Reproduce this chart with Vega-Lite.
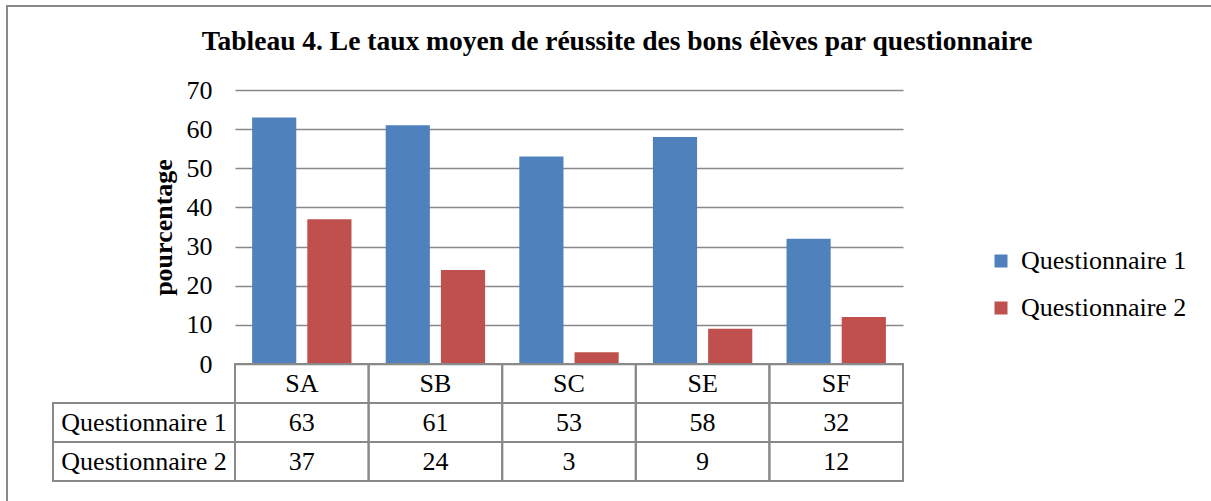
{
  "$schema": "https://vega.github.io/schema/vega-lite/v6.json",
  "width": 668,
  "height": 274,
  "autosize": {"type": "none"},
  "padding": {"left": 235, "top": 90, "right": 308, "bottom": 137},
  "background": "white",
  "config": {"view": {"stroke": null}, "font": "Liberation Serif"},
  "title": {
    "text": "Tableau 4. Le taux moyen de réussite des bons élèves  par questionnaire",
    "font": "Liberation Serif",
    "fontSize": 27.5,
    "fontWeight": "bold",
    "color": "black",
    "anchor": "middle",
    "baseline": "alphabetic",
    "dx": 48,
    "offset": -72
  },
  "data": {
    "values": [
      {"categorie": "SA", "questionnaire": "Questionnaire 1", "valeur": 63},
      {"categorie": "SA", "questionnaire": "Questionnaire 2", "valeur": 37},
      {"categorie": "SB", "questionnaire": "Questionnaire 1", "valeur": 61},
      {"categorie": "SB", "questionnaire": "Questionnaire 2", "valeur": 24},
      {"categorie": "SC", "questionnaire": "Questionnaire 1", "valeur": 53},
      {"categorie": "SC", "questionnaire": "Questionnaire 2", "valeur": 3},
      {"categorie": "SE", "questionnaire": "Questionnaire 1", "valeur": 58},
      {"categorie": "SE", "questionnaire": "Questionnaire 2", "valeur": 9},
      {"categorie": "SF", "questionnaire": "Questionnaire 1", "valeur": 32},
      {"categorie": "SF", "questionnaire": "Questionnaire 2", "valeur": 12}
    ]
  },
  "resolve": {"scale": {"x": "independent", "y": "independent"}},
  "layer": [
    {
      "transform": [{"aggregate": [{"op": "count", "as": "n"}]}],
      "mark": {"type": "rect", "filled": false, "stroke": "#898989", "strokeWidth": 2},
      "encoding": {
        "x": {"datum": 0, "type": "quantitative", "scale": {"domain": [0, 1], "range": [-228, 1000]}, "axis": null},
        "x2": {"datum": 1},
        "y": {"datum": 0, "type": "quantitative", "scale": {"domain": [0, 1], "range": [-84, 460]}, "axis": null},
        "y2": {"datum": 1}
      }
    },
    {
      "mark": {"type": "bar"},
      "encoding": {
        "x": {"field": "categorie", "type": "nominal", "scale": {"paddingInner": 0, "paddingOuter": 0}, "axis": null},
        "xOffset": {"field": "questionnaire", "type": "nominal", "scale": {"paddingInner": 0.2, "paddingOuter": 0.31}},
        "y": {
          "field": "valeur",
          "type": "quantitative",
          "scale": {"domain": [0, 70]},
          "axis": {
            "values": [0, 10, 20, 30, 40, 50, 60, 70],
            "title": "pourcentage",
            "titleFont": "Liberation Serif",
            "titleFontSize": 26,
            "titleFontWeight": "bold",
            "titleColor": "black",
            "titlePadding": 10,
            "labelFont": "Liberation Serif",
            "labelFontSize": 26,
            "labelColor": "black",
            "labelPadding": 23,
            "domain": false,
            "ticks": false,
            "grid": true,
            "gridColor": "#898989",
            "gridWidth": 1.5
          }
        },
        "color": {
          "field": "questionnaire",
          "type": "nominal",
          "scale": {"range": ["#4F81BD", "#C0504D"]},
          "legend": {
            "orient": "none",
            "legendX": 753,
            "legendY": 158,
            "title": null,
            "symbolType": "square",
            "symbolSize": 169,
            "symbolStrokeWidth": 0,
            "labelFont": "Liberation Serif",
            "labelFontSize": 26,
            "labelColor": "black",
            "labelOffset": 7,
            "labelLimit": 0,
            "rowPadding": 21
          }
        }
      }
    },
    {
      "resolve": {"scale": {"x": "independent"}},
      "layer": [
        {
          "mark": {"type": "rect", "filled": false, "stroke": "#898989", "strokeWidth": 2},
          "encoding": {
            "x": {"field": "categorie", "type": "nominal", "scale": {"paddingInner": 0, "paddingOuter": 0}, "axis": null},
            "y": {"field": "questionnaire", "type": "nominal", "scale": {"domain": ["entete", "Questionnaire 1", "Questionnaire 2"], "range": [274, 391], "paddingInner": 0, "paddingOuter": 0}, "axis": null}
          }
        },
        {
          "mark": {"type": "text", "font": "Liberation Serif", "fontSize": 26, "color": "black", "baseline": "middle", "align": "center"},
          "encoding": {
            "x": {"field": "categorie", "type": "nominal", "scale": {"paddingInner": 0, "paddingOuter": 0}, "axis": null},
            "y": {"field": "questionnaire", "type": "nominal", "axis": null},
            "text": {"field": "valeur"}
          }
        },
        {
          "transform": [{"filter": "datum.questionnaire === 'Questionnaire 1'"}],
          "mark": {"type": "rect", "filled": false, "stroke": "#898989", "strokeWidth": 2},
          "encoding": {
            "x": {"field": "categorie", "type": "nominal", "scale": {"paddingInner": 0, "paddingOuter": 0}, "axis": null},
            "y": {"datum": "entete", "type": "nominal", "axis": null}
          }
        },
        {
          "transform": [{"filter": "datum.questionnaire === 'Questionnaire 1'"}],
          "mark": {"type": "text", "font": "Liberation Serif", "fontSize": 26, "color": "black", "baseline": "middle", "align": "center"},
          "encoding": {
            "x": {"field": "categorie", "type": "nominal", "scale": {"paddingInner": 0, "paddingOuter": 0}, "axis": null},
            "y": {"datum": "entete", "type": "nominal", "axis": null},
            "text": {"field": "categorie"}
          }
        },
        {
          "transform": [{"filter": "datum.categorie === 'SA'"}],
          "mark": {"type": "rect", "filled": false, "stroke": "#898989", "strokeWidth": 2},
          "encoding": {
            "x": {"datum": "titre", "type": "nominal", "scale": {"domain": ["titre"], "range": [-182, 0], "paddingInner": 0, "paddingOuter": 0}, "axis": null},
            "y": {"field": "questionnaire", "type": "nominal", "axis": null}
          }
        },
        {
          "transform": [{"filter": "datum.categorie === 'SA'"}],
          "mark": {"type": "text", "font": "Liberation Serif", "fontSize": 26, "color": "black", "baseline": "middle", "align": "center"},
          "encoding": {
            "x": {"datum": "titre", "type": "nominal", "scale": {"domain": ["titre"], "range": [-182, 0], "paddingInner": 0, "paddingOuter": 0}, "axis": null},
            "y": {"field": "questionnaire", "type": "nominal", "axis": null},
            "text": {"field": "questionnaire"}
          }
        }
      ]
    }
  ]
}
